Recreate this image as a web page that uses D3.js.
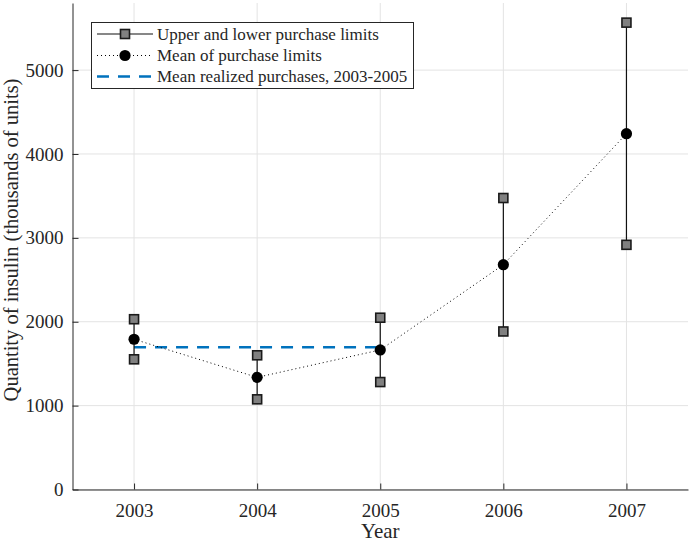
<!DOCTYPE html>
<html>
<head>
<meta charset="utf-8">
<script src="https://cdn.jsdelivr.net/npm/d3@7"></script>
<style>
  body { margin: 0; background: #fff; }
  text { font-family: "Liberation Serif", "Times New Roman", serif; fill: #262626; }
</style>
</head>
<body>
<svg id="chart" width="690" height="543"></svg>
<script>
// Dados
const years = [2003, 2004, 2005, 2006, 2007];
const upperLimits = [2030, 1600, 2048, 3475, 5566];
const lowerLimits = [1552, 1075, 1281, 1884, 2917];
const meanLimits = [1791, 1337, 1664, 2680, 4242];
const realizedYears = [2003, 2005];
const realizedMean = 1695;
const yTicks = [0, 1000, 2000, 3000, 4000, 5000];

const legendLabels = [
    "Upper and lower purchase limits",
    "Mean of purchase limits",
    "Mean realized purchases, 2003-2005"
];

const width = 690, height = 543;
const margin = { top: 3, right: 2, bottom: 53.5, left: 72.5 };
const svg = d3.select("#chart");

const x = d3.scaleLinear().domain([2002.5, 2007.5]).range([margin.left, width - margin.right]);
const y = d3.scaleLinear().domain([0, 5800]).range([height - margin.bottom, margin.top]);

const axisColor = "#262626";
const blue = "#0072BD";
const serif = "'Liberation Serif', 'Times New Roman', serif";

// Grade
const grid = svg.append("g");
grid.selectAll("line.gx").data(years).enter().append("line")
    .attr("x1", d => x(d)).attr("x2", d => x(d))
    .attr("y1", y.range()[0]).attr("y2", y.range()[1])
    .attr("stroke", "#e3e3e3").attr("stroke-width", 1);
grid.selectAll("line.gy").data(yTicks).enter().append("line")
    .attr("x1", x.range()[0]).attr("x2", x.range()[1])
    .attr("y1", d => y(d)).attr("y2", d => y(d))
    .attr("stroke", "#e3e3e3").attr("stroke-width", 1);

// Eixos (ticks para dentro, estilo MATLAB)
const xAxis = svg.append("g")
    .attr("transform", `translate(0,${y(0)})`)
    .call(d3.axisBottom(x).tickValues(years).tickFormat(d3.format("d")).tickSizeInner(-6).tickSizeOuter(0).tickPadding(14));
const yAxis = svg.append("g")
    .attr("transform", `translate(${x.range()[0]},0)`)
    .call(d3.axisLeft(y).tickValues(yTicks).tickFormat(d3.format("d")).tickSizeInner(-6).tickSizeOuter(0).tickPadding(9));

[xAxis, yAxis].forEach(a => {
    a.select(".domain").attr("stroke", axisColor).attr("stroke-width", 1);
    a.selectAll(".tick line").attr("stroke", axisColor);
    a.selectAll(".tick text")
        .style("font-family", serif)
        .style("font-size", "19px").attr("fill", axisColor);
});

// Linha média realizada
svg.append("line")
    .attr("x1", x(realizedYears[0])).attr("x2", x(realizedYears[1]))
    .attr("y1", y(realizedMean)).attr("y2", y(realizedMean))
    .attr("stroke", blue).attr("stroke-width", 2.5)
    .attr("stroke-dasharray", "12,9");

// Linha pontilhada das médias
svg.append("path")
    .datum(years.map((yr, i) => [yr, meanLimits[i]]))
    .attr("fill", "none").attr("stroke", "#000").attr("stroke-width", 1)
    .attr("stroke-dasharray", "1,3")
    .attr("d", d3.line().x(d => x(d[0])).y(d => y(d[1])));

// Barras verticais entre limites
svg.selectAll("line.range").data(years).enter().append("line")
    .attr("x1", d => x(d)).attr("x2", d => x(d))
    .attr("y1", (d, i) => y(upperLimits[i])).attr("y2", (d, i) => y(lowerLimits[i]))
    .attr("stroke", "#111").attr("stroke-width", 1.2);

const sq = 9;
const squares = years.flatMap((yr, i) => [[yr, upperLimits[i]], [yr, lowerLimits[i]]]);
svg.selectAll("rect.lim").data(squares).enter().append("rect")
    .attr("x", d => x(d[0]) - sq / 2).attr("y", d => y(d[1]) - sq / 2)
    .attr("width", sq).attr("height", sq)
    .attr("fill", "#808080").attr("stroke", "#1a1a1a").attr("stroke-width", 1.6);

svg.selectAll("circle.mean").data(years).enter().append("circle")
    .attr("cx", d => x(d)).attr("cy", (d, i) => y(meanLimits[i]))
    .attr("r", 5.6).attr("fill", "#000");

// Rótulos dos eixos
svg.append("text")
    .attr("x", (x.range()[0] + x.range()[1]) / 2).attr("y", 538)
    .attr("text-anchor", "middle").style("font-size", "21px")
    .text("Year");
svg.append("text")
    .attr("transform", "translate(18,240) rotate(-90)")
    .attr("text-anchor", "middle").style("font-size", "20.5px")
    .text("Quantity of insulin (thousands of units)");

// Legenda
const lg = svg.append("g");
lg.append("rect")
    .attr("x", 91.5).attr("y", 22.5).attr("width", 322).attr("height", 66)
    .attr("fill", "#fff").attr("stroke", axisColor).attr("stroke-width", 1);
const rowY = [34, 55.5, 76.5];
const sx0 = 97, sx1 = 153, sxm = 125;
// linha 1
lg.append("line").attr("x1", sx0).attr("x2", sx1).attr("y1", rowY[0]).attr("y2", rowY[0])
    .attr("stroke", "#111").attr("stroke-width", 1.2);
lg.append("rect").attr("x", sxm - sq / 2).attr("y", rowY[0] - sq / 2).attr("width", sq).attr("height", sq)
    .attr("fill", "#808080").attr("stroke", "#1a1a1a").attr("stroke-width", 1.6);
// linha 2
lg.append("line").attr("x1", sx0).attr("x2", sx1).attr("y1", rowY[1]).attr("y2", rowY[1])
    .attr("stroke", "#000").attr("stroke-width", 1).attr("stroke-dasharray", "1,3");
lg.append("circle").attr("cx", sxm).attr("cy", rowY[1]).attr("r", 5.6).attr("fill", "#000");
// linha 3
lg.append("line").attr("x1", sx0).attr("x2", sx1).attr("y1", rowY[2]).attr("y2", rowY[2])
    .attr("stroke", blue).attr("stroke-width", 2.5).attr("stroke-dasharray", "12,9");

lg.selectAll("text.lab").data(legendLabels).enter().append("text")
    .attr("x", 157).attr("y", (d, i) => rowY[i] + 5.5)
    .style("font-size", "17px")
    .text(d => d);
</script>
</body>
</html>
